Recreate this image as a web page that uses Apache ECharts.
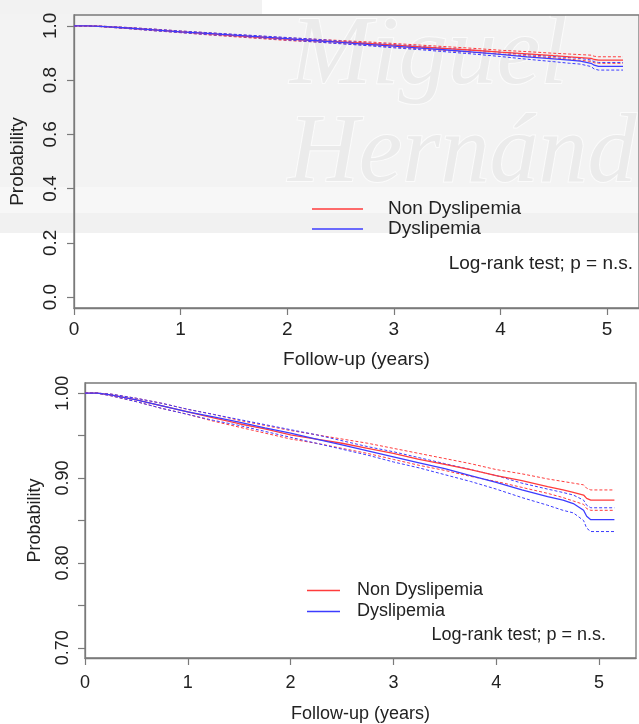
<!DOCTYPE html>
<html>
<head>
<meta charset="utf-8">
<script src="https://cdn.jsdelivr.net/npm/echarts@6/dist/echarts.min.js"></script>
<style>html,body{margin:0;padding:0;background:#fff}#c{width:639px;height:724px}</style>
</head>
<body>
<div id="c"></div>
<script>
// Follow-up time points (years)
var times = [0, 0.12, 0.25, 0.5, 0.75, 1.0, 1.25, 1.5, 1.75, 2.0, 2.25, 2.5, 2.75, 3.0, 3.25, 3.5, 3.75, 4.0, 4.25, 4.5, 4.65, 4.75, 4.85, 4.88, 4.92, 5.15];
// Non Dyslipemia
var nonSurv  = [1, 1, 0.998, 0.992, 0.985, 0.978, 0.971, 0.964, 0.958, 0.951, 0.946, 0.941, 0.935, 0.929, 0.922, 0.916, 0.910, 0.903, 0.897, 0.890, 0.886, 0.883, 0.880, 0.876, 0.874, 0.874];
var nonUpper = [1, 1, 0.999, 0.994, 0.988, 0.981, 0.975, 0.968, 0.962, 0.956, 0.951, 0.946, 0.941, 0.935, 0.929, 0.923, 0.917, 0.910, 0.905, 0.899, 0.896, 0.894, 0.892, 0.888, 0.886, 0.886];
var nonLower = [1, 1, 0.997, 0.990, 0.982, 0.975, 0.967, 0.960, 0.953, 0.946, 0.941, 0.935, 0.929, 0.922, 0.915, 0.909, 0.902, 0.896, 0.889, 0.882, 0.877, 0.873, 0.869, 0.864, 0.862, 0.862];
// Dyslipemia
var dysSurv  = [1, 1, 0.998, 0.992, 0.985, 0.978, 0.972, 0.966, 0.959, 0.953, 0.946, 0.939, 0.932, 0.925, 0.918, 0.911, 0.903, 0.895, 0.886, 0.878, 0.874, 0.870, 0.862, 0.855, 0.851, 0.851];
var dysUpper = [1, 1, 0.999, 0.994, 0.988, 0.981, 0.975, 0.969, 0.963, 0.957, 0.951, 0.944, 0.937, 0.931, 0.924, 0.917, 0.910, 0.903, 0.894, 0.887, 0.883, 0.880, 0.874, 0.868, 0.865, 0.865];
var dysLower = [1, 1, 0.997, 0.990, 0.982, 0.975, 0.968, 0.962, 0.955, 0.948, 0.941, 0.934, 0.927, 0.919, 0.912, 0.904, 0.896, 0.887, 0.877, 0.868, 0.862, 0.859, 0.850, 0.841, 0.837, 0.837];
// Tick labels
var xTicks = [0, 1, 2, 3, 4, 5];
var yTicksTop = [0, 0.2, 0.4, 0.6, 0.8, 1.0];
var yTicksBottom = [0.70, 0.75, 0.80, 0.85, 0.90, 0.95, 1.00];
var yLabelsBottom = [0.70, 0.80, 0.90, 1.00];
var groupNames = ['Non Dyslipemia', 'Dyslipemia'];
var logRankText = 'Log-rank test; p = n.s.';

var RED = '#ff3c3c', BLUE = '#3c3cff', AX = '#7a7a7a', TXT = '#222';
var FONT = 'Liberation Sans, Arial, sans-serif';

function pts(arr) { return times.map(function (t, i) { return [t, arr[i]]; }); }
function mk(name, arr, color, dashed, idx) {
  return {
    type: 'line', name: name, xAxisIndex: idx, yAxisIndex: idx,
    data: pts(arr), showSymbol: false, symbol: 'none', animation: false,
    color: color, silent: true,
    lineStyle: { color: color, width: dashed ? 1 : 1.3, type: dashed ? [3, 2] : 'solid' }
  };
}
var series = [];
[0, 1].forEach(function (g) {
  series.push(mk(groupNames[0] + ' upper', nonUpper, RED, true, g));
  series.push(mk(groupNames[0] + ' lower', nonLower, RED, true, g));
  series.push(mk(groupNames[1] + ' upper', dysUpper, BLUE, true, g));
  series.push(mk(groupNames[1] + ' lower', dysLower, BLUE, true, g));
  series.push(mk(groupNames[0], nonSurv, RED, false, g));
  series.push(mk(groupNames[1], dysSurv, BLUE, false, g));
});

var AXLINE = { show: true, onZero: false, lineStyle: { color: AX, width: 1.3 } };
function xAxis(idx, max, fs, margin, gap) {
  return {
    type: 'value', gridIndex: idx, min: 0, max: max, position: 'bottom',
    name: 'Follow-up (years)', nameLocation: 'middle', nameGap: gap,
    nameTextStyle: { fontSize: fs, color: TXT, fontFamily: FONT },
    axisLine: AXLINE,
    axisTick: { show: true, inside: false, length: 7, customValues: xTicks, lineStyle: { color: AX, width: 1.2 } },
    axisLabel: { customValues: xTicks, fontSize: fs, color: TXT, fontFamily: FONT, margin: margin },
    splitLine: { show: false }
  };
}

var WM = 'italic 98px Liberation Serif, Times New Roman, serif';
var option = {
  animation: false,
  backgroundColor: '#fff',
  graphic: [
    { type: 'rect', z: -10, shape: { x: 0, y: 0, width: 262, height: 14 }, style: { fill: '#f2f2f2' } },
    { type: 'rect', z: -10, shape: { x: 0, y: 14, width: 639, height: 173 }, style: { fill: '#f3f3f3' } },
    { type: 'rect', z: -10, shape: { x: 0, y: 187, width: 639, height: 26 }, style: { fill: '#f7f7f7' } },
    { type: 'rect', z: -10, shape: { x: 0, y: 213, width: 639, height: 20 }, style: { fill: '#f1f1f1' } },
    { type: 'text', z: -9, x: 290, y: 8, style: { text: 'Miguel', font: WM, fill: '#ebebeb', stroke: '#fbfbfb', lineWidth: 2 } },
    { type: 'text', z: -9, x: 288, y: 106, style: { text: 'Hernández', font: WM, fill: '#ebebeb', stroke: '#fbfbfb', lineWidth: 2 } },
    { type: 'text', x: 633, y: 264, style: { text: logRankText, textAlign: 'right', textVerticalAlign: 'middle', font: '19px ' + FONT, fill: TXT } },
    { type: 'text', x: 606, y: 635, style: { text: logRankText, textAlign: 'right', textVerticalAlign: 'middle', font: '18px ' + FONT, fill: TXT } }
  ],
  legend: [
    { data: groupNames, left: 312, top: 199, orient: 'vertical', icon: 'rect', itemWidth: 51, itemHeight: 1.3,
      itemGap: 0, padding: 0, selectedMode: false,
      textStyle: { fontSize: 19, color: TXT, fontFamily: FONT, lineHeight: 20, padding: [0, 0, 0, 20] } },
    { data: groupNames, left: 307, top: 580, orient: 'vertical', icon: 'rect', itemWidth: 33, itemHeight: 1.3,
      itemGap: 0, padding: 0, selectedMode: false,
      textStyle: { fontSize: 18, color: TXT, fontFamily: FONT, lineHeight: 21, padding: [0, 0, 0, 12] } }
  ],
  grid: [
    { left: 72, top: 15, width: 569, height: 293, show: true, borderColor: AX, borderWidth: 1.3, backgroundColor: 'transparent' },
    { left: 85, top: 383, width: 551, height: 282, show: true, borderColor: AX, borderWidth: 1.3, backgroundColor: 'transparent' }
  ],
  xAxis: [ xAxis(0, 5.3, 19, 12, 42), xAxis(1, 5.36, 18, 16, 47) ],
  yAxis: [
    { type: 'value', gridIndex: 0, min: -0.04, max: 1.04, position: 'left',
      name: 'Probability', nameLocation: 'middle', nameGap: 47, nameRotate: 90,
      nameTextStyle: { fontSize: 19, color: TXT, fontFamily: FONT },
      axisLine: AXLINE,
      axisTick: { show: true, inside: false, length: 7, customValues: yTicksTop, lineStyle: { color: AX, width: 1.2 } },
      axisLabel: { customValues: yTicksTop, rotate: 90, fontSize: 19, color: TXT, fontFamily: FONT, margin: 14,
        formatter: function (v) { return v.toFixed(1); } },
      splitLine: { show: false } },
    { type: 'value', gridIndex: 1, min: 0.688, max: 1.012, position: 'left',
      name: 'Probability', nameLocation: 'middle', nameGap: 41, nameRotate: 90,
      nameTextStyle: { fontSize: 18, color: TXT, fontFamily: FONT },
      axisLine: AXLINE,
      axisTick: { show: true, inside: false, length: 7, customValues: yTicksBottom, lineStyle: { color: AX, width: 1.2 } },
      axisLabel: { customValues: yLabelsBottom, rotate: 90, fontSize: 18, color: TXT, fontFamily: FONT, margin: 13,
        formatter: function (v) { return v.toFixed(2); } },
      splitLine: { show: false } }
  ],
  series: series
};
var chart = echarts.init(document.getElementById('c'), null, { renderer: 'canvas' });
chart.setOption(option);
</script>
</body>
</html>
